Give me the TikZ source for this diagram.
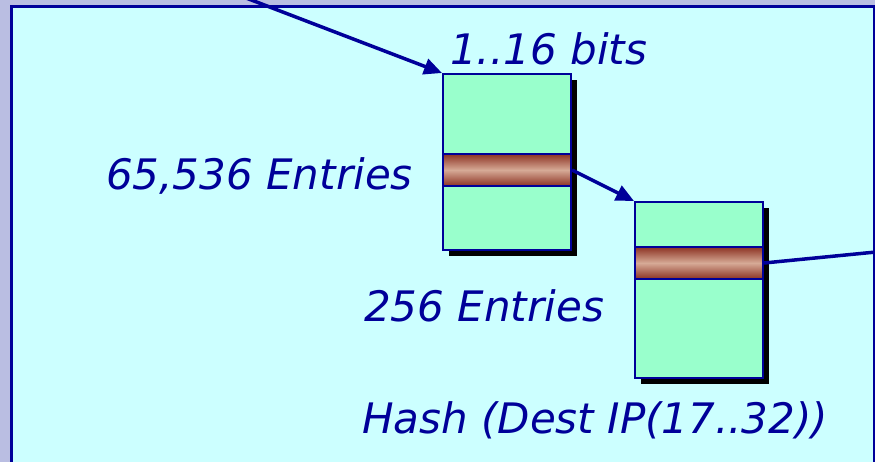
\documentclass[tikz,border=0pt]{standalone}
\usepackage{fontspec}
\setmainfont{DejaVu Sans}
\usetikzlibrary{arrows.meta,shadows}
\definecolor{bgout}{RGB}{186,190,226}
\definecolor{panel}{RGB}{204,255,255}
\definecolor{navy}{RGB}{0,0,153}
\definecolor{cell}{RGB}{153,255,204}
\definecolor{banddark}{RGB}{140,50,35}
\definecolor{bandlight}{RGB}{214,170,150}
\tikzset{
  tablebox/.style={draw=navy, line width=2pt, fill=cell, minimum width=128pt, inner sep=0pt,
    general shadow={fill=black, shadow xshift=6pt, shadow yshift=-6pt}},
  bandbox/.style={draw=navy, line width=2pt, minimum width=128pt, minimum height=32pt, inner sep=0pt,
    top color=banddark, bottom color=banddark, middle color=bandlight},
  lbl/.style={text=navy, font=\fontsize{42}{48}\selectfont\itshape, inner sep=0pt},
  conn/.style={draw=navy, line width=3.5pt},
  arr/.style={conn, -{Triangle[length=18pt,width=16pt]}}
}
\begin{document}
\begin{tikzpicture}[x=1pt,y=-1pt]
\useasboundingbox (0,0) rectangle (875,462);
\clip (0,0) rectangle (875,462);
\fill[bgout] (0,0) rectangle (875,462);
\draw[navy, line width=3pt, fill=panel] (11.5,7) rectangle (874,475);
% boxes
\node[tablebox, minimum height=176pt] (b1) at (507,162) {};
\node[bandbox] (band1) at (507,170) {};
\node[tablebox, minimum height=176pt] (b2) at (699,290) {};
\node[bandbox] (band2) at (699,263) {};
% labels
\node[lbl, anchor=base west] (t1) at (450,65) {1..16 bits};
\node[lbl, anchor=base west] (t2) at (106,190) {65,536 Entries};
\node[lbl, anchor=base west] (t3) at (364,321) {256 Entries};
\node[lbl, anchor=base west] (t4) at (362,433) {Hash (Dest IP(17..32))};
% connectors
\coordinate (src) at (220,-12);
\coordinate (dst) at (876,252);
\draw[arr] (src) -- (b1.north west);
\draw[arr] (band1.east) -- (b2.north west);
\draw[conn] (band2.east) -- (dst);
\end{tikzpicture}
\end{document}
